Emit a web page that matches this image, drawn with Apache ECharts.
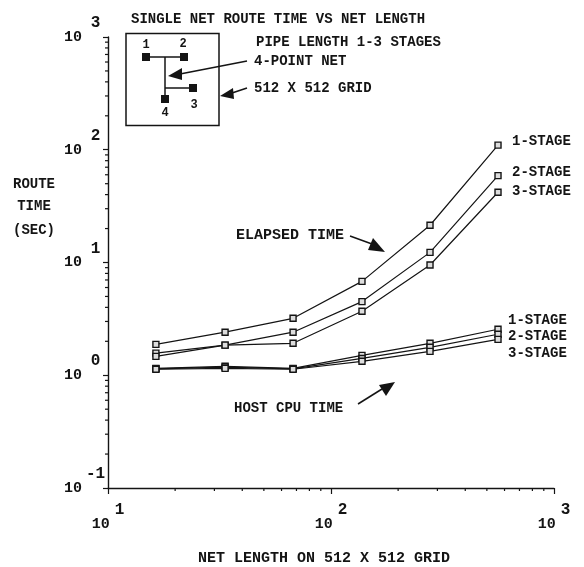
<!DOCTYPE html>
<html><head><meta charset="utf-8">
<style>html,body{margin:0;padding:0;background:#fff}#c{width:584px;height:567px}</style>
<script src="https://cdn.jsdelivr.net/npm/echarts@6/dist/echarts.min.js"></script>
</head><body><div id="c"></div>
<script>
const netLength = [16.4, 33.5, 67.6, 137.7, 278, 561];
const elapsed1 = [1.88, 2.41, 3.2, 6.8, 21.4, 110];
const elapsed2 = [1.57, 1.85, 2.41, 4.5, 12.3, 59];
const elapsed3 = [1.47, 1.85, 1.92, 3.7, 9.5, 42];
const cpu1 = [1.15, 1.2, 1.15, 1.5, 1.92, 2.56];
const cpu2 = [1.14, 1.18, 1.14, 1.41, 1.77, 2.31];
const cpu3 = [1.13, 1.15, 1.13, 1.33, 1.63, 2.08];
const xMinorTicks = [20,30,40,50,60,70,80,90,200,300,400,500,600,700,800,900];
const yMinorTicks = [0.2,0.3,0.4,0.5,0.6,0.7,0.8,0.9,2,3,4,5,6,7,8,9,20,30,40,50,60,70,80,90,200,300,400,500,600,700,800,900];
const xExponents = {10:'1',100:'2',1000:'3'};
const yExponents = {0.1:'-1',1:'0',10:'1',100:'2',1000:'3'};

const FONT = '"Liberation Mono"';
const ink = '#141414';
const T = (text, x, y, extra) => ({type:'text', z:10, style:Object.assign({text, x, y, fill:ink,
  font:'bold 14px '+FONT, textVerticalAlign:'middle'}, extra||{})});
const L = (pts, w) => ({type:'polyline', z:10, shape:{points:pts}, style:{stroke:ink, lineWidth:w||1.5, fill:null}});
const H = (pts) => ({type:'polygon', z:10, shape:{points:pts}, style:{fill:ink}});
const S = (cx, cy) => ({type:'rect', z:10, shape:{x:cx-4, y:cy-4, width:8, height:8}, style:{fill:ink}});

const line = (name, data) => ({name, type:'line', data:netLength.map((x,i)=>[x,data[i]]),
  symbol:'rect', symbolSize:6, showSymbol:true, z:3,
  lineStyle:{color:ink,width:1.2}, itemStyle:{color:'#ddd',borderColor:ink,borderWidth:1.4},
  silent:true});

const tickSeries = (vals, isX) => ({type:'custom', silent:true, z:2, clip:false,
  data:vals.map(v=>isX?[v,0.1]:[10,v]),
  renderItem:(p,api)=>{
    const c = api.coord([api.value(0),api.value(1)]);
    return {type:'line', shape: isX?{x1:c[0],y1:c[1],x2:c[0],y2:c[1]+3}:{x1:c[0]-3,y1:c[1],x2:c[0],y2:c[1]},
      style:{stroke:ink,lineWidth:1.2}};
  }});

const base = {fontFamily:FONT, fontWeight:'bold', color:ink};
const richX = {
  b:Object.assign({fontSize:15}, base),
  e:Object.assign({fontSize:16, padding:[0,0,28,5]}, base)
};
const richY = {
  b:Object.assign({fontSize:15}, base),
  e:Object.assign({fontSize:16, width:19, align:'left', padding:[0,0,28,4]}, base)
};
const chart = echarts.init(document.getElementById('c'), null, {renderer:'canvas'});
chart.setOption({
  animation:false, backgroundColor:'#fff',
  grid:{left:108,right:30,top:37,bottom:79},
  xAxis:{type:'log',logBase:10,min:10,max:1000,splitLine:{show:false},minorTick:{show:false},
    axisLine:{lineStyle:{color:ink,width:1.4}},axisTick:{length:6,lineStyle:{color:ink,width:1.2},alignWithLabel:true},
    axisLabel:{margin:14,interval:0,showMinLabel:true,showMaxLabel:true,hideOverlap:false,rich:richX,formatter:v=>`{b|10}{e|${xExponents[v]}}`}},
  yAxis:{type:'log',logBase:10,min:0.1,max:1000,splitLine:{show:false},minorTick:{show:false},
    axisLine:{onZero:false,lineStyle:{color:ink,width:1.4}},axisTick:{length:5,lineStyle:{color:ink,width:1.2}},
    axisLabel:{margin:3,interval:0,showMinLabel:true,showMaxLabel:true,hideOverlap:false,rich:richY,formatter:v=>`{b|10}{e|${yExponents[v]}}`}},
  series:[tickSeries(xMinorTicks,true),tickSeries(yMinorTicks,false),
    line('Elapsed 1-stage',elapsed1),line('Elapsed 2-stage',elapsed2),line('Elapsed 3-stage',elapsed3),
    line('CPU 1-stage',cpu1),line('CPU 2-stage',cpu2),line('CPU 3-stage',cpu3)],
  graphic:[
    T('SINGLE NET ROUTE TIME VS NET LENGTH',131,19),
    T('PIPE LENGTH 1-3 STAGES',256,42),
    T('4-POINT NET',254,61),
    T('512 X 512 GRID',254,88),
    T('ROUTE',34,184,{textAlign:'center'}),
    T('TIME',34,206,{textAlign:'center'}),
    T('(SEC)',34,230,{textAlign:'center'}),
    T('ELAPSED TIME',236,235,{font:'bold 15px '+FONT}),
    T('HOST CPU TIME',234,408),
    T('NET LENGTH ON 512 X 512 GRID',198,558,{font:'bold 15px '+FONT}),
    T('1-STAGE',512,141),T('2-STAGE',512,172),T('3-STAGE',512,191),
    T('1-STAGE',508,320),T('2-STAGE',508,336),T('3-STAGE',508,353),
    {type:'rect',z:10,shape:{x:126,y:33.5,width:93,height:92},style:{fill:null,stroke:ink,lineWidth:1.5}},
    L([[146,57],[184,57]]),L([[165,57],[165,99]]),L([[165,88],[193,88]]),
    S(146,57),S(184,57),S(193,88),S(165,99),
    T('1',146,45,{textAlign:'center',font:'bold 12px '+FONT}),
    T('2',183,44,{textAlign:'center',font:'bold 12px '+FONT}),
    T('3',194,105,{textAlign:'center',font:'bold 12px '+FONT}),
    T('4',165,113,{textAlign:'center',font:'bold 12px '+FONT}),
    L([[247,61],[180,74]]),H([[168,76],[182,68],[182,80]]),
    L([[247,88],[232,93]]),H([[220,96],[233,88],[234,99]]),
    L([[350,236],[372,244]]),H([[385,252],[368,250],[373,238]]),
    L([[358,404],[382,389]]),H([[395,382],[386,396],[379,385]])
  ]
});
</script></body></html>
